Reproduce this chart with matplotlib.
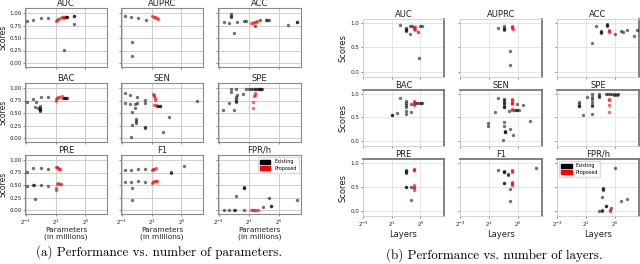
import matplotlib
matplotlib.use("Agg")
import matplotlib.pyplot as plt
from matplotlib.patches import Patch
from matplotlib.ticker import NullLocator

# ---------------- data: (a) performance vs. parameters (millions) ----------------
metrics = ["AUC", "AUPRC", "ACC", "BAC", "SEN", "SPE", "PRE", "F1", "FPR/h"]

par_auc_ex = [(0.147, 0.85), (0.245, 0.87), (0.5, 0.91), (1.02, 0.91), (4.6, 0.93), (5.3, 0.93),
              (5.7, 0.93), (6.0, 0.92), (11.6, 0.95), (11.6, 0.94), (11.6, 0.79), (4.3, 0.27)]
par_auc_pr = [(2.14, 0.85), (2.3, 0.87), (2.6, 0.89), (3.0, 0.90), (3.5, 0.92), (4.0, 0.92), (4.3, 0.91)]
par_auprc_ex = [(0.177, 0.945), (0.287, 0.925), (0.574, 0.90), (1.15, 0.86), (0.339, 0.43), (0.339, 0.145)]
par_auprc_pr = [(2.14, 0.95), (2.4, 0.93), (2.8, 0.92), (3.2, 0.90), (3.7, 0.88)]
par_acc_ex = [(0.203, 0.83), (0.33, 0.81), (0.379, 0.98), (0.379, 0.95), (0.379, 0.93), (0.49, 0.60),
              (0.66, 0.83), (1.23, 0.845), (1.52, 0.845), (3.48, 0.745), (5.66, 0.86), (9.2, 0.86),
              (11.0, 0.87), (13.0, 0.86), (73.5, 0.77), (158, 0.83), (158, 0.82)]
par_acc_pr = [(2.5, 0.80), (2.8, 0.81), (3.2, 0.82), (3.7, 0.83), (4.2, 0.85)]
par_bac_ex = [(0.137, 0.72), (0.245, 0.79), (0.314, 0.72), (0.295, 0.625), (0.406, 0.60), (0.467, 0.64),
              (0.467, 0.61), (0.467, 0.58), (0.467, 0.56), (0.467, 0.54), (0.5, 0.82), (1.02, 0.82),
              (3.9, 0.81), (4.3, 0.81), (4.8, 0.81), (5.3, 0.81), (6.0, 0.81)]
par_bac_pr = [(2.0, 0.75), (2.1, 0.78), (2.3, 0.80), (2.6, 0.82), (3.0, 0.83), (3.5, 0.84)]
par_sen_ex = [(0.165, 0.90), (0.26, 0.856), (0.536, 0.817), (1.05, 0.77), (0.165, 0.71), (0.26, 0.69),
              (0.445, 0.685), (0.536, 0.71), (1.05, 0.71), (0.32, 0.527), (0.445, 0.61),
              (3.4, 0.65), (3.8, 0.65), (4.2, 0.65), (4.5, 0.65), (10.6, 0.415), (137, 0.74),
              (0.487, 0.39), (0.487, 0.34), (0.487, 0.30), (0.32, 0.26), (1.05, 0.23), (1.05, 0.20),
              (0.30, 0.03), (5.66, 0.12)]
par_sen_pr = [(2.2, 0.88), (2.4, 0.86), (2.6, 0.84), (2.8, 0.80), (2.8, 0.77), (2.6, 0.66), (2.9, 0.66)]
par_spe_ex = [(0.19, 0.56), (0.32, 0.71), (0.38, 0.975), (0.38, 0.92), (0.51, 0.56), (0.6, 0.975),
              (0.6, 0.82), (0.6, 0.78), (0.6, 0.75), (0.6, 0.72), (0.66, 0.86), (1.18, 0.89),
              (1.5, 0.975), (2.0, 0.975), (2.5, 0.975), (3.0, 0.975), (3.5, 0.975), (4.0, 0.975),
              (4.5, 0.975), (5.0, 0.975), (5.5, 0.975), (6.0, 0.975), (6.9, 0.975)]
par_spe_pr = [(2.9, 0.61), (3.0, 0.72), (3.2, 0.85), (3.4, 0.87), (3.6, 0.90)]
par_pre_ex = [(0.144, 0.765), (0.245, 0.84), (0.5, 0.84), (1.02, 0.82), (0.144, 0.49), (0.245, 0.50),
              (0.27, 0.51), (0.5, 0.51), (1.02, 0.49), (0.295, 0.22)]
par_pre_pr = [(2.0, 0.87), (2.2, 0.86), (2.5, 0.84), (2.8, 0.83), (3.1, 0.82),
              (2.0, 0.41), (2.0, 0.45), (2.2, 0.52), (2.5, 0.54), (2.9, 0.52), (3.3, 0.52)]
par_f1_ex = [(0.165, 0.80), (0.287, 0.80), (0.555, 0.82), (1.07, 0.83), (0.165, 0.57), (0.287, 0.57),
             (0.555, 0.58), (1.07, 0.57), (0.33, 0.45), (0.33, 0.21), (12.1, 0.75), (12.1, 0.76), (42, 0.88)]
par_f1_pr = [(2.1, 0.80), (2.3, 0.82), (2.6, 0.83), (3.0, 0.84), (2.1, 0.54), (2.3, 0.57), (2.6, 0.59),
             (3.0, 0.58), (3.3, 0.58)]
par_fpr_ex = [(0.2, 0.0), (0.32, 0.0), (0.49, 0.0), (0.56, 0.0), (1.23, 0.0), (0.6, 0.29), (1.23, 0.47),
              (1.23, 0.45), (1.23, 0.44), (7.1, 0.06), (13.0, 0.24), (15.3, 0.09), (15.3, 0.08), (164, 0.2)]
par_fpr_pr = [(2.4, 0.0), (2.8, 0.0), (3.2, 0.0), (3.7, 0.0), (4.5, 0.0)]

# ---------------- data: (b) performance vs. layers ----------------
lay_auc_ex = [(4.3, 0.95), (8, 0.90), (8, 0.88), (8, 0.86), (8, 0.84), (11.5, 0.78), (11.5, 0.93),
              (14.5, 0.93), (26, 0.82), (30.5, 0.93), (36, 0.93), (28, 0.27)]
lay_auc_pr = [(17, 0.92), (18, 0.90), (18, 0.88), (19, 0.86), (20, 0.92)]
lay_auprc_ex = [(4.8, 0.895), (8, 0.93), (8, 0.90), (8, 0.88), (8, 0.86), (15.3, 0.43), (15.3, 0.126)]
lay_auprc_pr = [(17.5, 0.94), (18, 0.92), (18.5, 0.90), (19, 0.88)]
lay_acc_ex = [(3.7, 0.59), (5.1, 0.94), (8.3, 0.84), (8.3, 0.82), (8.3, 0.80), (15, 0.985), (15, 0.96),
              (15, 0.93), (30.5, 0.78), (55, 0.84), (69, 0.81), (96, 0.85), (202, 0.74), (254, 0.85)]
lay_acc_pr = [(18.7, 0.85), (18.7, 0.83), (18.7, 0.81)]
lay_bac_ex = [(2.06, 0.545), (2.06, 0.55), (3.4, 0.60), (4.3, 0.915), (8.3, 0.84), (8.3, 0.80), (8.3, 0.76),
              (8.3, 0.72), (8.3, 0.63), (8.3, 0.58), (13.2, 0.78), (13.2, 0.62), (20, 0.81), (24, 0.81),
              (28, 0.81), (33, 0.81), (38.6, 0.81)]
lay_bac_pr = [(17, 0.85), (17, 0.82), (17.5, 0.79), (18, 0.76)]
lay_sen_ex = [(4.8, 0.915), (3.45, 0.615), (8, 0.89), (8, 0.86), (8, 0.83), (8, 0.80), (8, 0.77), (8, 0.72),
              (8, 0.71), (29.6, 0.78), (51.6, 0.755), (13.9, 0.635), (22, 0.65), (26, 0.65), (30, 0.65),
              (36, 0.65), (98, 0.425), (1.73, 0.37), (1.73, 0.32), (8, 0.405), (8, 0.32), (9.2, 0.215),
              (9.2, 0.19), (9.2, 0.18), (15.3, 0.25), (19.4, 0.125), (7.3, 0.02)]
lay_sen_pr = [(17.6, 0.89), (17.6, 0.86), (17.6, 0.83), (17.6, 0.80), (17.6, 0.78), (17.6, 0.665), (18, 0.67)]
lay_spe_ex = [(1, 0.82), (1, 0.78), (1, 0.75), (1, 0.73), (1.54, 0.545), (2.1, 0.93), (3.7, 0.985),
              (3.7, 0.94), (3.7, 0.88), (3.7, 0.82), (3.7, 0.76), (3.7, 0.73), (3.7, 0.565), (7, 0.985),
              (7, 0.96), (7, 0.94), (14, 0.985), (16, 0.985), (20, 0.985), (24, 0.985), (28, 0.98),
              (33, 0.985), (38, 0.98), (42, 0.985)]
lay_spe_pr = [(18.8, 0.89), (18.8, 0.86), (18.8, 0.755), (18.8, 0.615)]
lay_pre_ex = [(8, 0.85), (8, 0.83), (8, 0.80), (8, 0.78), (8, 0.50), (8, 0.49), (13.2, 0.50), (13.2, 0.23)]
lay_pre_pr = [(17, 0.88), (17, 0.86), (17, 0.84), (17, 0.54), (17, 0.50), (17, 0.47), (17, 0.43)]
lay_f1_ex = [(4.8, 0.845), (8, 0.82), (8, 0.80), (8, 0.81), (12, 0.76), (12, 0.75), (8, 0.58), (8, 0.57),
             (14.5, 0.46), (14.5, 0.205), (176, 0.90)]
lay_f1_pr = [(18, 0.85), (18, 0.83), (18, 0.81), (18, 0.59), (18, 0.57), (18, 0.555), (18, 0.545)]
lay_fpr_ex = [(7.1, 0.0), (8.9, 0.0), (8.9, 0.01), (10.4, 0.457), (10.4, 0.47), (10.4, 0.44), (9.5, 0.286),
              (13.5, 0.10), (13.5, 0.09), (21, 0.05), (30.5, 0.90), (55, 0.20), (103, 0.24)]
lay_fpr_pr = [(20, 0.0), (20, 0.02)]

param_sets = [(par_auc_ex, par_auc_pr), (par_auprc_ex, par_auprc_pr), (par_acc_ex, par_acc_pr),
              (par_bac_ex, par_bac_pr), (par_sen_ex, par_sen_pr), (par_spe_ex, par_spe_pr),
              (par_pre_ex, par_pre_pr), (par_f1_ex, par_f1_pr), (par_fpr_ex, par_fpr_pr)]
layer_sets = [(lay_auc_ex, lay_auc_pr), (lay_auprc_ex, lay_auprc_pr), (lay_acc_ex, lay_acc_pr),
              (lay_bac_ex, lay_bac_pr), (lay_sen_ex, lay_sen_pr), (lay_spe_ex, lay_spe_pr),
              (lay_pre_ex, lay_pre_pr), (lay_f1_ex, lay_f1_pr), (lay_fpr_ex, lay_fpr_pr)]

x_ticks = [2 ** -3, 2 ** 1, 2 ** 5]
x_tick_labels = ["$2^{-3}$", "$2^{1}$", "$2^{5}$"]
yticks_a = [0.0, 0.25, 0.5, 0.75, 1.0]
yticks_a_labels = ["0.00", "0.25", "0.50", "0.75", "1.00"]
yticks_b = [0.0, 0.5, 1.0]
yticks_b_labels = ["0.0", "0.5", "1.0"]
legend_labels = ["Existing", "Proposed"]
caption_a = "(a) Performance vs. number of parameters."
caption_b = "(b) Performance vs. number of layers."

W, H = 640, 264
fig = plt.figure(figsize=(W / 100, H / 100), dpi=100)


def ax_at(x0, y0, x1, y1):
    return fig.add_axes([x0 / W, 1 - y1 / H, (x1 - x0) / W, (y1 - y0) / H])


def draw(ax, ex, pr):
    ax.scatter([p[0] for p in ex], [p[1] for p in ex], s=6, c="black", alpha=0.55, linewidths=0, zorder=3)
    ax.scatter([p[0] for p in pr], [p[1] for p in pr], s=6, c="red", alpha=0.6, linewidths=0, zorder=4)


# ---------------- panel (a) ----------------
cols_a = [(25, 107), (121, 203), (218, 301)]
rows_a = [(8, 67), (83, 142), (155, 214)]
for i, (name, (ex, pr)) in enumerate(zip(metrics, param_sets)):
    r, c = divmod(i, 3)
    ax = ax_at(cols_a[c][0], rows_a[r][0], cols_a[c][1], rows_a[r][1])
    draw(ax, ex, pr)
    ax.set_xscale("log", base=2)
    ax.set_xlim(2 ** -3.1, 2 ** 7.9)
    ax.set_ylim(-0.08, 1.1)
    ax.set_xticks(x_ticks)
    ax.xaxis.set_minor_locator(NullLocator())
    ax.set_yticks(yticks_a)
    ax.grid(True, color="#c8c8c8", linewidth=0.6)
    ax.set_axisbelow(True)
    for s in ax.spines.values():
        s.set_color("#8a8a8a")
        s.set_linewidth(0.8)
    ax.tick_params(length=1.5, width=0.5, colors="#555555", labelsize=4, pad=1, labelcolor="#222222")
    ax.set_title(name, fontsize=6, pad=1.5, color="#222222")
    if c == 0:
        ax.set_yticklabels(yticks_a_labels)
        ax.set_ylabel("Scores", fontsize=5.5, labelpad=1, color="#222222")
    else:
        ax.set_yticklabels([])
    if r == 2:
        ax.set_xticklabels(x_tick_labels)
        ax.set_xlabel("Parameters\n(in millions)", fontsize=5.3, labelpad=0.5, color="#222222",
                      linespacing=1.0)
    else:
        ax.set_xticklabels([])
    if name == "FPR/h":
        handles = [Patch(color="black", label=legend_labels[0]), Patch(color="red", label=legend_labels[1])]
        ax.legend(handles=handles, loc="upper right", fontsize=3.5, handlelength=2.2, handleheight=0.9,
                  borderpad=0.4, labelspacing=0.3, framealpha=1, edgecolor="#dddddd", fancybox=False)

# ---------------- panel (b) ----------------
cols_b = [(363, 444), (460, 542), (557, 639)]
rows_b = [(19, 77), (90, 146), (159, 216)]
for i, (name, (ex, pr)) in enumerate(zip(metrics, layer_sets)):
    r, c = divmod(i, 3)
    ax = ax_at(cols_b[c][0], rows_b[r][0], cols_b[c][1], rows_b[r][1])
    draw(ax, ex, pr)
    ax.set_xscale("log", base=2)
    ax.set_xlim(2 ** -3, 2 ** 8.3)
    ax.set_ylim(-0.11, 1.08)
    ax.set_xticks(x_ticks)
    ax.xaxis.set_minor_locator(NullLocator())
    ax.set_yticks(yticks_b)
    ax.grid(True, color="#e2e2e2", linewidth=0.6)
    ax.set_axisbelow(True)
    for s in ax.spines.values():
        s.set_color("#cccccc")
        s.set_linewidth(0.6)
    ax.spines["right"].set_color("#777777")
    ax.spines["right"].set_linewidth(1.3)
    if r > 0:
        ax.spines["top"].set_color("#777777")
        ax.spines["top"].set_linewidth(1.3)
    ax.tick_params(length=1.5, width=0.5, colors="#555555", labelsize=4, pad=1, labelcolor="#222222")
    ax.set_title(name, fontsize=6, pad=1.5, color="#222222")
    if c == 0:
        ax.set_yticklabels(yticks_b_labels)
        ax.set_ylabel("Scores", fontsize=6, labelpad=2, color="#222222")
    else:
        ax.set_yticklabels([])
    if r == 2:
        ax.set_xticklabels(x_tick_labels)
        ax.set_xlabel("Layers", fontsize=6, labelpad=1, color="#222222")
    else:
        ax.set_xticklabels([])
    if name == "FPR/h":
        handles = [Patch(color="black", label=legend_labels[0]), Patch(color="red", label=legend_labels[1])]
        ax.legend(handles=handles, loc="upper left", fontsize=3.5, handlelength=2.2, handleheight=0.9,
                  borderpad=0.4, labelspacing=0.3, framealpha=1, edgecolor="#dddddd", fancybox=False)

fig.text(159 / W, 1 - 252 / H, caption_a, ha="center", va="center", fontsize=9.4, family="cmr10")
fig.text(494 / W, 1 - 255 / H, caption_b, ha="center", va="center", fontsize=9.4, family="cmr10")

fig.savefig("out.png", dpi=100)
